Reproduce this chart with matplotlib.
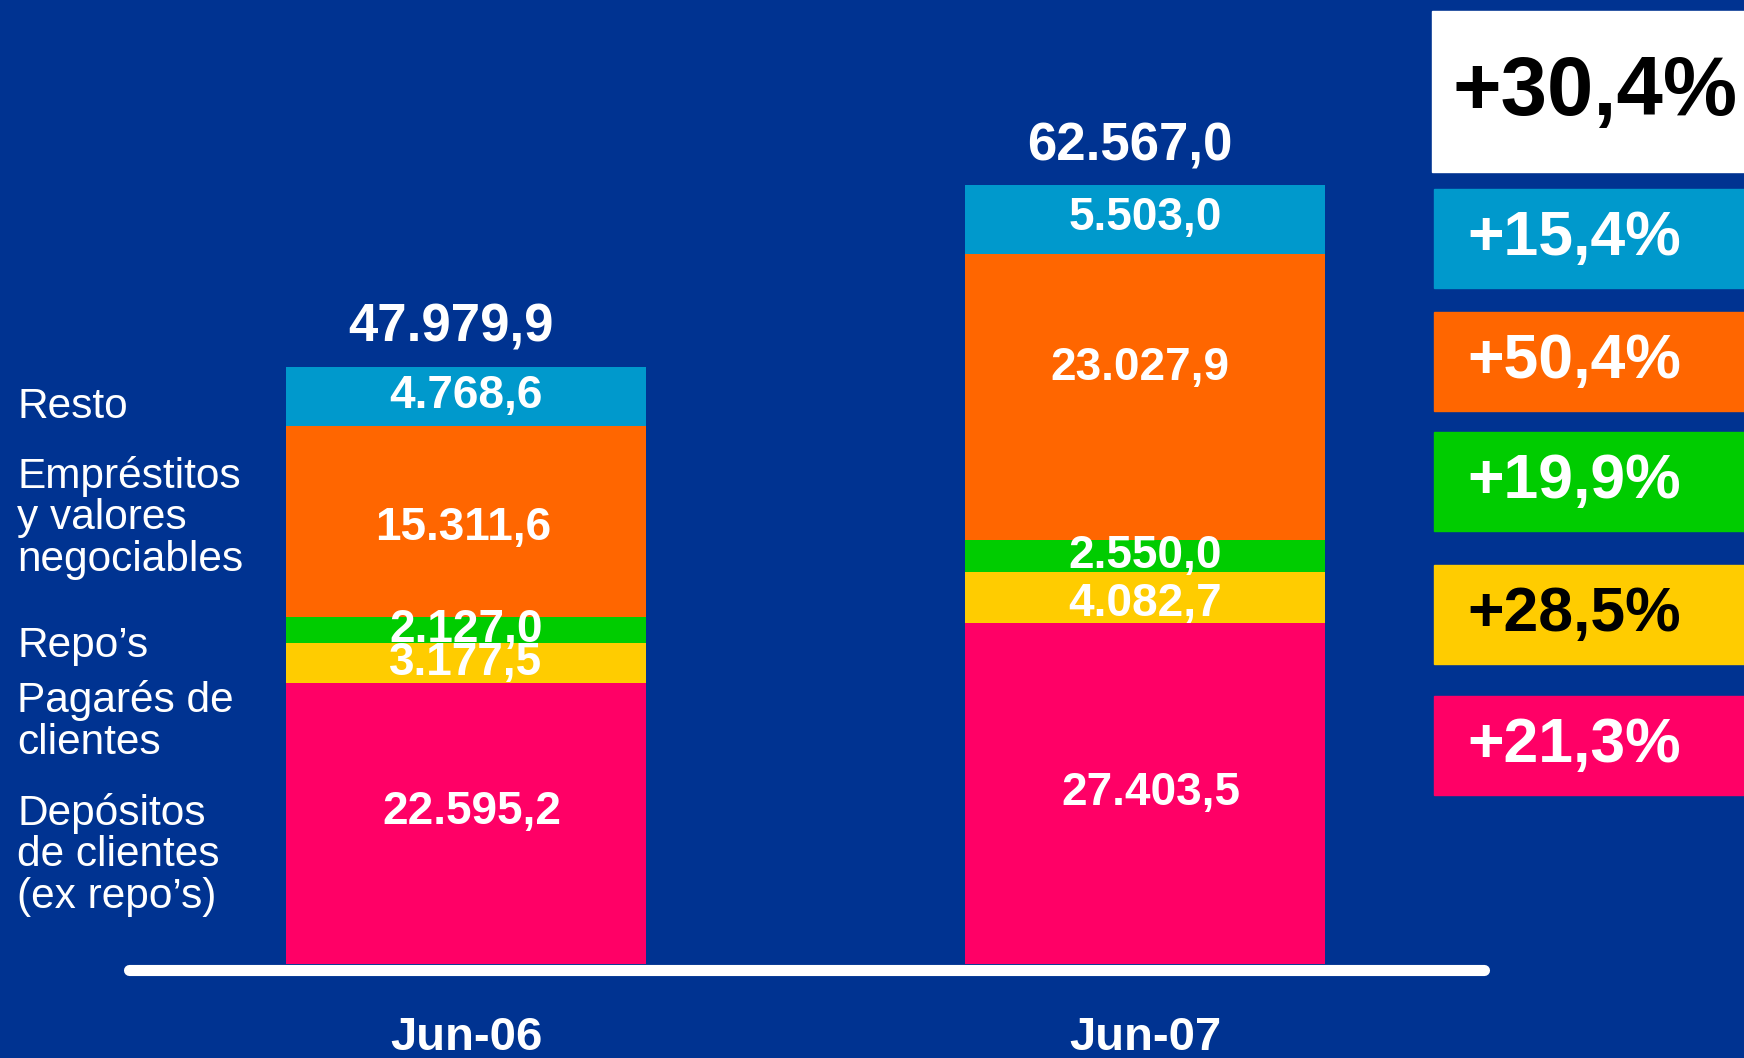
import matplotlib
matplotlib.use('Agg')
import matplotlib.pyplot as plt
from matplotlib.patches import Rectangle
import numpy as np

plt.rcParams['font.family'] = ['Liberation Sans', 'DejaVu Sans']

periods = ['Jun-06', 'Jun-07']
series_names = ['Depósitos\nde clientes\n(ex repo’s)', 'Pagarés de\nclientes', 'Repo’s',
                'Empréstitos\ny valores\nnegociables', 'Resto']
depositos = [22595.2, 27403.5]
pagares = [3177.5, 4082.7]
repos = [2127.0, 2550.0]
emprestitos = [15311.6, 23027.9]
resto = [4768.6, 5503.0]
totals = [47979.9, 62567.0]
growth_total = '+30,4%'
growth = ['+21,3%', '+28,5%', '+19,9%', '+50,4%', '+15,4%']

bg = '#003391'
colors = ['#FF0066', '#FFCC00', '#00CC00', '#FF6600', '#0099CC']

# small nudges (points) of the segment labels, as placed in the original slide
label_nudge = [[(4, 8), (4, 0)], [(0, 0), (0, -5)], [(0, 0), (0, 0)],
               [(-2, -5), (-4, 21)], [(0, 0), (0, 1)]]


def fmt(v):
    s = '{:,.1f}'.format(v)
    return s.replace(',', 'X').replace('.', ',').replace('X', '.')


W, H = 1744, 1058
fig = plt.figure(figsize=(W / 100, H / 100), dpi=100, facecolor=bg)

# axes: bottom at the baseline (pixel 964), full width
base_px = 964
ax = fig.add_axes([0, 1 - base_px / H, 1, base_px / H])
ax.set_facecolor(bg)
ax.axis('off')
px_per_unit = 0.01245
ax.set_ylim(0, base_px / px_per_unit)
x0_px, step_px = 466, 679
ax.set_xlim(-x0_px / step_px, (W - x0_px) / step_px)

x = np.arange(len(periods))
bar_w = 360 / step_px
stack = [depositos, pagares, repos, emprestitos, resto]
bottom = np.zeros(len(periods))
for k, (vals, c) in enumerate(zip(stack, colors)):
    vals = np.array(vals)
    ax.bar(x, vals, bar_w, bottom=bottom, color=c, linewidth=0)
    for i in range(len(periods)):
        ax.annotate(fmt(vals[i]), xy=(x[i], bottom[i] + vals[i] / 2),
                    xytext=label_nudge[k][i], textcoords='offset points',
                    ha='center', va='center', color='white', fontsize=33, fontweight='bold')
    bottom += vals

for i in range(len(periods)):
    ax.annotate(fmt(totals[i]), xy=(x[i], bottom[i]), xytext=(-11, 28),
                textcoords='offset points', ha='center', va='center',
                color='white', fontsize=38, fontweight='bold')
    ax.annotate(periods[i], xy=(x[i], 0), xytext=(0, -62),
                textcoords='offset points', ha='center', va='baseline',
                color='white', fontsize=34, fontweight='bold', annotation_clip=False)

# white base line
ax.plot([(129 - x0_px) / step_px, (1484 - x0_px) / step_px], [-5.5 / px_per_unit] * 2,
        color='white', lw=8, solid_capstyle='round', clip_on=False)

# series labels on the left (baseline of last line, pixels from top)
label_base = [908, 754, 657, 571, 418]
for name, yb in zip(series_names, label_base):
    fig.text(17 / W, 1 - yb / H, name, ha='left', va='baseline', color='white',
             fontsize=30.5, linespacing=1.05)

# growth boxes on the right
fig.patches.append(Rectangle((1432 / W, 1 - 172 / H), (W - 1432) / W, 161 / H,
                             transform=fig.transFigure, color='white', zorder=0))
fig.text(1452 / W, 1 - 93 / H, growth_total, ha='left', va='center',
         color='black', fontsize=60, fontweight='bold')
box_tops = [696, 565, 432, 312, 189]
text_colors = ['white', 'black', 'white', 'white', 'white']
for g, c, tc, top in zip(growth, colors, text_colors, box_tops):
    fig.patches.append(Rectangle((1434 / W, 1 - (top + 99) / H), (W - 1434) / W, 99 / H,
                                 transform=fig.transFigure, color=c, zorder=0))
    fig.text(1467 / W, 1 - (top + 49.5) / H, g, ha='left', va='center',
             color=tc, fontsize=45, fontweight='bold')

fig.savefig('out.png', dpi=100, facecolor=bg)
